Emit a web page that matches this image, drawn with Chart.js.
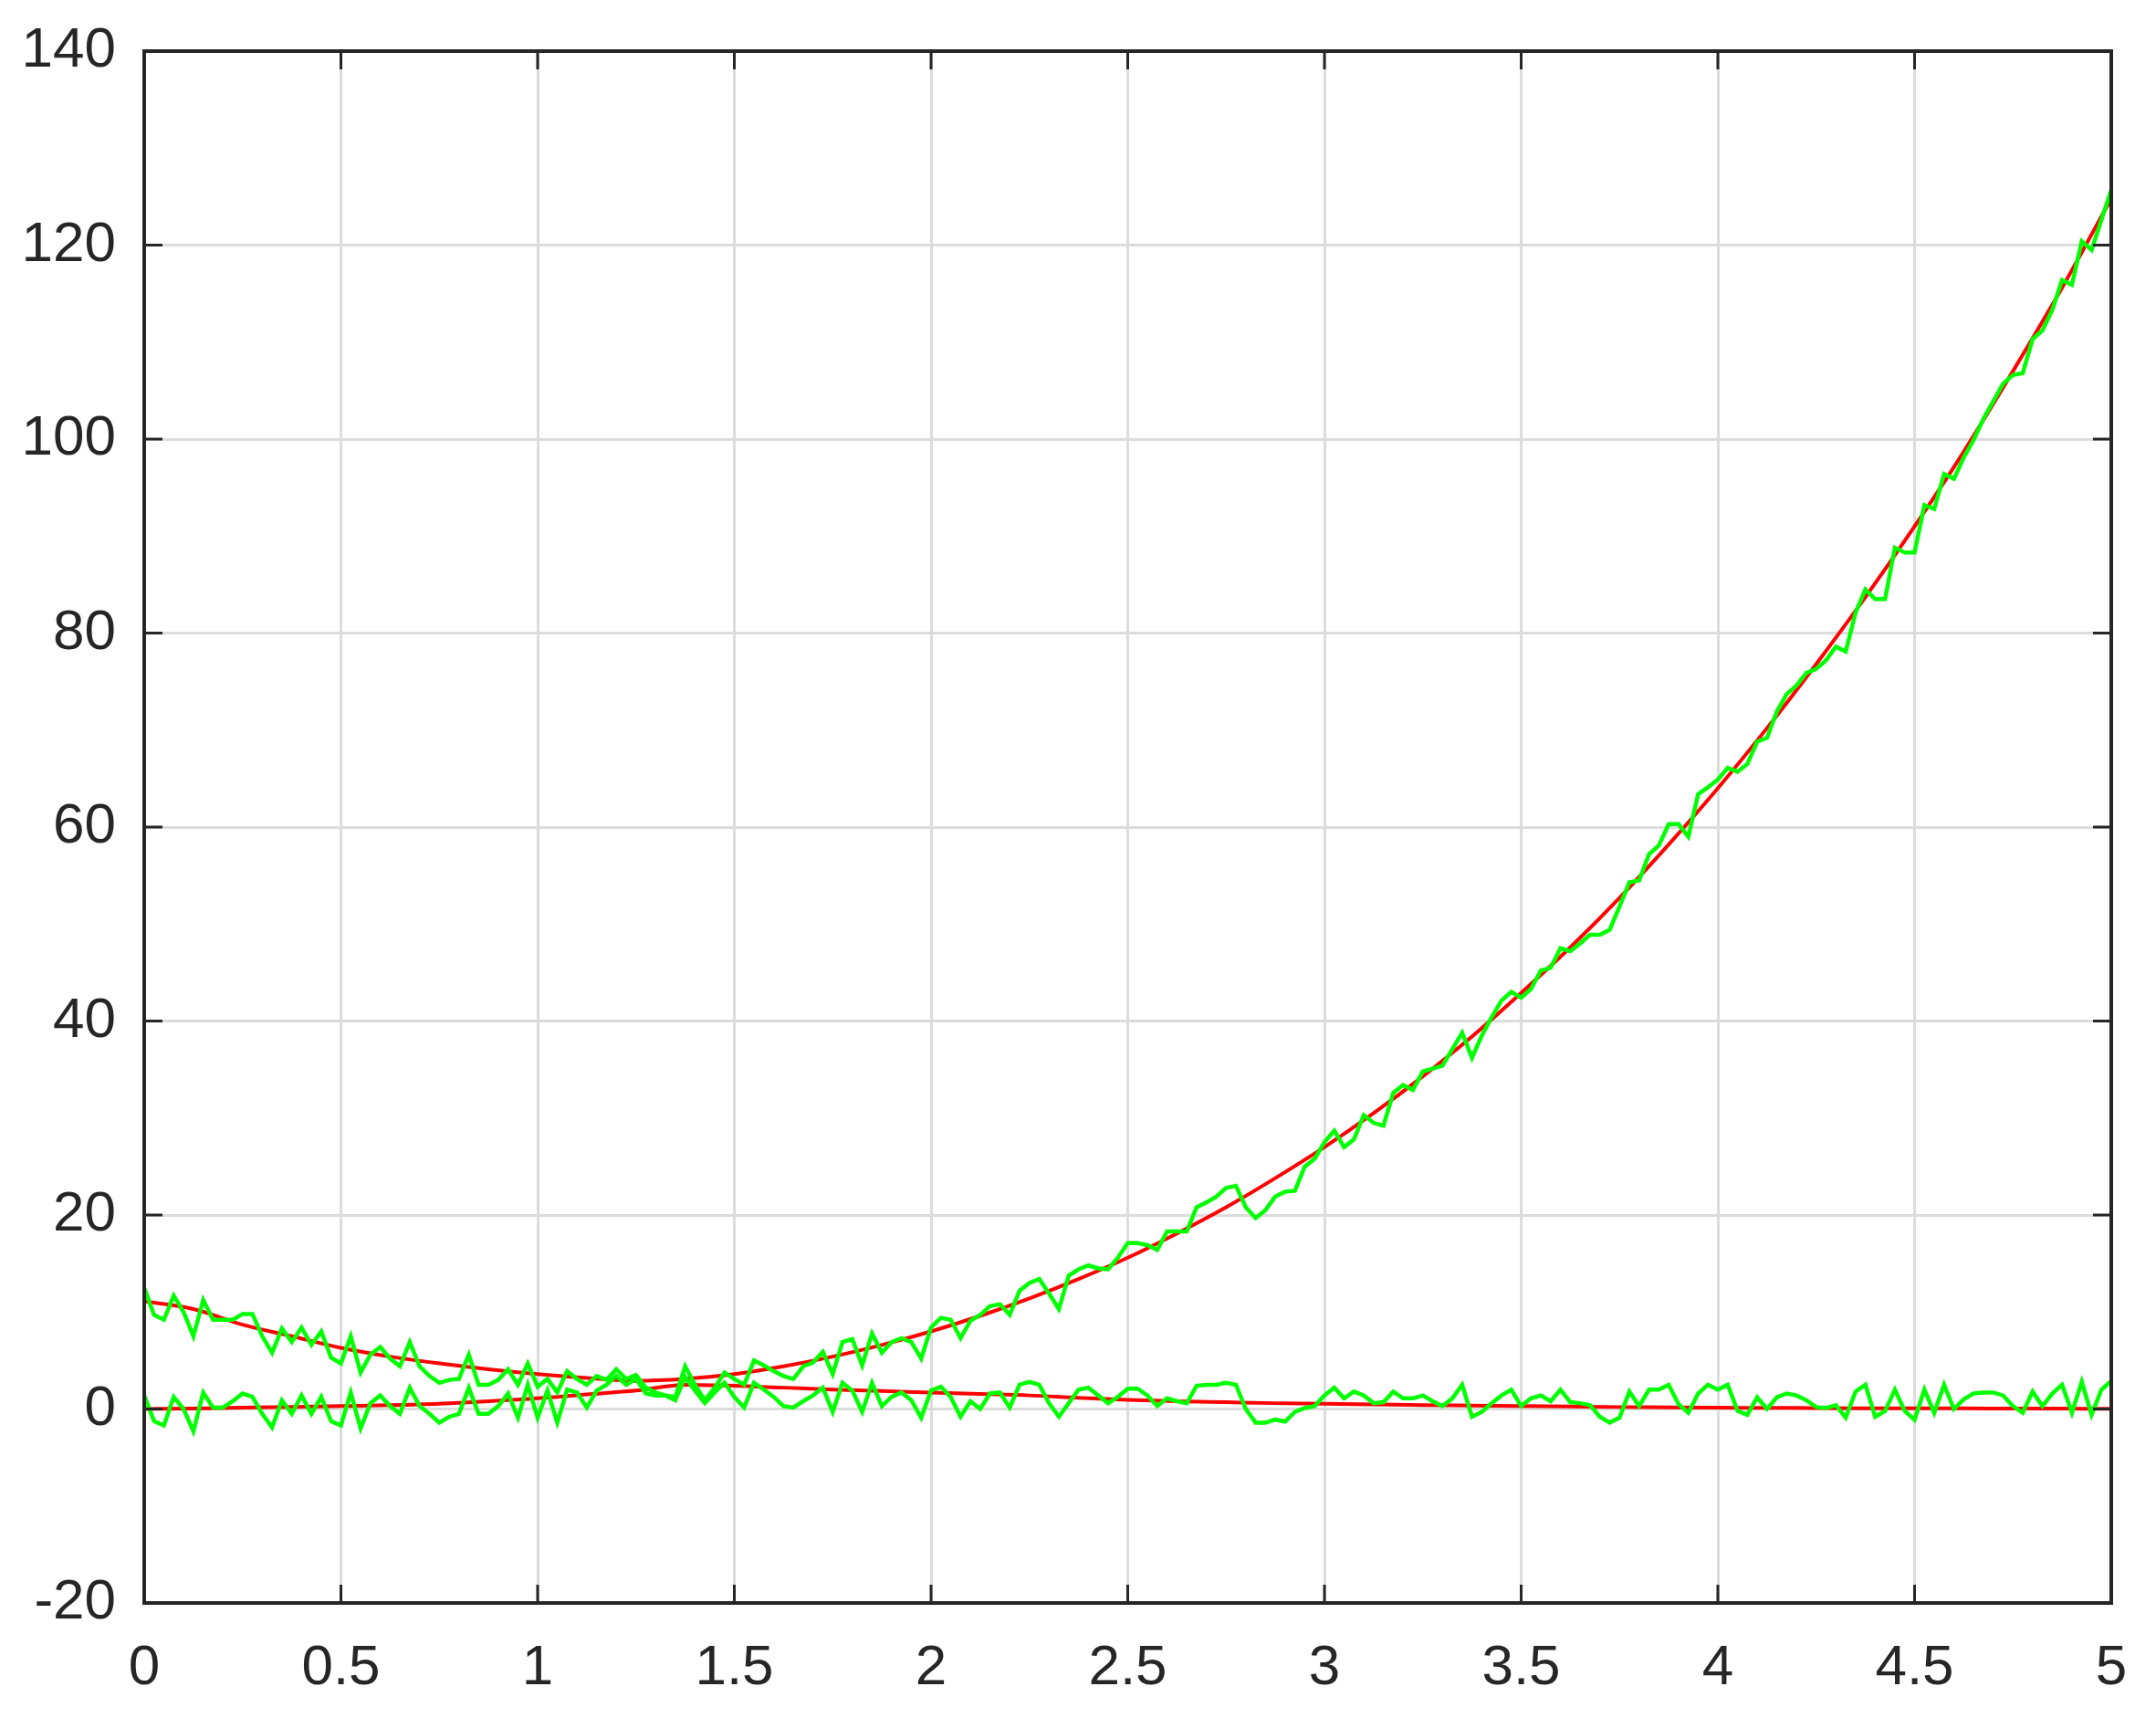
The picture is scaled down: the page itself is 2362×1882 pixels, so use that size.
<!DOCTYPE html>
<html>
<head>
<meta charset="utf-8">
<script src="https://cdn.jsdelivr.net/npm/chart.js@4/dist/chart.umd.min.js"></script>
<style>
  html, body { margin: 0; padding: 0; background: #fff; }
  #wrap { width: 2362px; height: 1882px; }
</style>
</head>
<body>
<div id="wrap"><canvas id="myChart" width="2362" height="1882"></canvas></div>
<script>
// tick labels
const xTicks = [0, 0.5, 1, 1.5, 2, 2.5, 3, 3.5, 4, 4.5, 5];
const yTicks = [-20, 0, 20, 40, 60, 80, 100, 120, 140];

// smooth (red) curves, sampled every 0.125
const xRed = [0, 0.125, 0.25, 0.375, 0.5, 0.625, 0.75, 0.875, 1, 1.125, 1.25, 1.375, 1.5, 1.625, 1.75, 1.875,
  2, 2.125, 2.25, 2.375, 2.5, 2.625, 2.75, 2.875, 3, 3.125, 3.25, 3.375, 3.5, 3.625, 3.75, 3.875,
  4, 4.125, 4.25, 4.375, 4.5, 4.625, 4.75, 4.875, 5];
const redUpper = [11.1, 10.3, 8.7, 7.5, 6.3, 5.4, 4.7, 4.1, 3.6, 3.2, 2.9, 3.1, 3.6, 4.4, 5.4, 6.6,
  8.0, 9.6, 11.4, 13.4, 15.6, 18.1, 20.8, 23.8, 27.0, 30.5, 34.3, 38.4, 42.9, 47.6, 52.7, 58.2,
  64.0, 70.2, 76.8, 83.7, 91.0, 98.7, 107.0, 115.6, 124.8];
const redLower = [0, 0.05, 0.15, 0.22, 0.3, 0.4, 0.55, 0.8, 1.1, 1.5, 1.9, 2.5, 2.4, 2.2, 2.0, 1.85,
  1.7, 1.55, 1.4, 1.15, 0.95, 0.8, 0.7, 0.6, 0.55, 0.48, 0.4, 0.35, 0.3, 0.25, 0.2, 0.17,
  0.14, 0.12, 0.1, 0.08, 0.07, 0.06, 0.05, 0.04, 0.03];

// noisy (green) samples, every 0.025
const xGreen = [
  0, 0.025, 0.05, 0.075, 0.1, 0.125, 0.15, 0.175, 0.2, 0.225, 0.25, 0.275, 0.3, 0.325, 0.35, 0.375, 0.4, 0.425, 0.45, 0.475,
  0.5, 0.525, 0.55, 0.575, 0.6, 0.625, 0.65, 0.675, 0.7, 0.725, 0.75, 0.775, 0.8, 0.825, 0.85, 0.875, 0.9, 0.925, 0.95, 0.975,
  1, 1.025, 1.05, 1.075, 1.1, 1.125, 1.15, 1.175, 1.2, 1.225, 1.25, 1.275, 1.3, 1.325, 1.35, 1.375, 1.4, 1.425, 1.45, 1.475,
  1.5, 1.525, 1.55, 1.575, 1.6, 1.625, 1.65, 1.675, 1.7, 1.725, 1.75, 1.775, 1.8, 1.825, 1.85, 1.875, 1.9, 1.925, 1.95, 1.975,
  2, 2.025, 2.05, 2.075, 2.1, 2.125, 2.15, 2.175, 2.2, 2.225, 2.25, 2.275, 2.3, 2.325, 2.35, 2.375, 2.4, 2.425, 2.45, 2.475,
  2.5, 2.525, 2.55, 2.575, 2.6, 2.625, 2.65, 2.675, 2.7, 2.725, 2.75, 2.775, 2.8, 2.825, 2.85, 2.875, 2.9, 2.925, 2.95, 2.975,
  3, 3.025, 3.05, 3.075, 3.1, 3.125, 3.15, 3.175, 3.2, 3.225, 3.25, 3.275, 3.3, 3.325, 3.35, 3.375, 3.4, 3.425, 3.45, 3.475,
  3.5, 3.525, 3.55, 3.575, 3.6, 3.625, 3.65, 3.675, 3.7, 3.725, 3.75, 3.775, 3.8, 3.825, 3.85, 3.875, 3.9, 3.925, 3.95, 3.975,
  4, 4.025, 4.05, 4.075, 4.1, 4.125, 4.15, 4.175, 4.2, 4.225, 4.25, 4.275, 4.3, 4.325, 4.35, 4.375, 4.4, 4.425, 4.45, 4.475,
  4.5, 4.525, 4.55, 4.575, 4.6, 4.625, 4.65, 4.675, 4.7, 4.725, 4.75, 4.775, 4.8, 4.825, 4.85, 4.875, 4.9, 4.925, 4.95, 4.975,
  5];
const greenUpper = [
  12.5, 9.7, 9.2, 11.7, 10.0, 7.5, 11.25, 9.2, 9.2, 9.2,
  9.8, 9.8, 7.5, 5.8, 8.3, 6.9, 8.4, 6.6, 8.0, 5.3,
  4.7, 7.5, 3.75, 5.6, 6.4, 5.2, 4.4, 6.9, 4.4, 3.4,
  2.7, 3.0, 3.1, 5.6, 2.5, 2.5, 3.0, 4.1, 2.5, 4.7,
  2.3, 3.1, 1.7, 3.9, 3.1, 2.5, 3.4, 3.0, 4.1, 3.1,
  3.5, 2.2, 1.7, 1.4, 1.25, 4.4, 2.5, 0.9, 2.2, 3.75,
  3.1, 2.5, 5.0, 4.5, 3.9, 3.4, 3.1, 4.4, 4.8, 5.9,
  3.6, 6.9, 7.2, 4.5, 7.8, 5.8, 6.9, 7.3, 6.9, 5.2,
  8.4, 9.4, 9.2, 7.3, 9.1, 9.7, 10.6, 10.8, 9.7, 12.2,
  13.0, 13.4, 11.9, 10.3, 13.75, 14.4, 14.8, 14.5, 14.4, 15.6,
  17.1, 17.1, 16.9, 16.4, 18.3, 18.3, 18.3, 20.8, 21.3, 21.9,
  22.8, 23.0, 20.8, 19.7, 20.5, 21.9, 22.4, 22.5, 25.0, 25.8,
  27.5, 28.7, 27.0, 27.8, 30.3, 29.5, 29.2, 32.6, 33.4, 32.9,
  34.8, 35.1, 35.4, 37.1, 38.8, 36.2, 38.5, 40.4, 42.1, 43.0,
  42.4, 43.3, 45.2, 45.5, 47.5, 47.2, 48.0, 48.9, 48.9, 49.4,
  51.8, 54.3, 54.5, 57.2, 58.1, 60.3, 60.3, 59.0, 63.4, 64.1,
  64.9, 66.1, 65.7, 66.5, 68.8, 69.2, 71.9, 73.7, 74.6, 75.9,
  76.3, 77.2, 78.6, 78.1, 82.1, 84.5, 83.5, 83.5, 88.8, 88.3,
  88.3, 93.2, 92.8, 96.4, 95.9, 98.1, 99.9, 102.1, 103.9, 105.7,
  106.6, 106.8, 110.3, 111.2, 113.3, 116.4, 115.9, 120.4, 119.5, 122.6,
  125.7];
const greenLower = [
  1.4, -1.25, -1.7, 1.25, 0, -2.3, 1.7, 0.15, 0.15, 0.8,
  1.6, 1.25, -0.5, -1.9, 0.9, -0.5, 1.4, -0.5, 1.25, -1.25,
  -1.7, 1.7, -2.0, 0.6, 1.4, 0.3, -0.5, 2.2, 0.3, -0.5,
  -1.4, -0.8, -0.5, 2.2, -0.5, -0.5, 0.3, 1.6, -0.9, 2.5,
  -0.9, 1.9, -1.4, 2.0, 1.7, 0.15, 1.9, 2.5, 3.4, 2.5,
  3.1, 1.6, 1.4, 1.4, 0.9, 3.3, 1.9, 0.6, 1.7, 2.7,
  1.25, 0.15, 2.7, 2.0, 1.25, 0.3, 0.15, 0.8, 1.4, 2.2,
  -0.3, 2.7, 1.9, -0.3, 2.7, 0.3, 1.25, 1.7, 0.9, -0.9,
  1.9, 2.3, 1.25, -0.8, 0.8, 0, 1.6, 1.7, 0.15, 2.5,
  2.8, 2.5, 0.6, -0.8, 0.6, 2.0, 2.2, 1.4, 0.6, 1.25,
  2.1, 2.1, 1.4, 0.3, 1.1, 0.8, 0.6, 2.4, 2.5, 2.5,
  2.7, 2.5, 0, -1.4, -1.4, -1.1, -1.3, -0.3, 0.1, 0.3,
  1.4, 2.2, 1.1, 1.8, 1.4, 0.6, 0.7, 1.8, 1.1, 1.1,
  1.4, 0.8, 0.3, 1.1, 2.5, -0.8, -0.3, 0.6, 1.4, 2.0,
  0.3, 1.1, 1.4, 0.8, 2.0, 0.7, 0.6, 0.4, -0.8, -1.4,
  -0.9, 1.8, 0.3, 2.0, 2.0, 2.5, 0.5, -0.4, 1.6, 2.5,
  2.0, 2.5, -0.2, -0.6, 1.2, 0, 1.2, 1.6, 1.4, 0.9,
  0.2, 0.1, 0.4, -0.9, 1.8, 2.5, -0.8, -0.2, 2.0, -0.2,
  -1.1, 2.0, -0.4, 2.5, 0, 1.0, 1.6, 1.7, 1.7, 1.4,
  0.3, -0.4, 1.8, 0.3, 1.6, 2.5, -0.4, 2.8, -0.6, 2.0,
  2.9];

function pts(xs, ys) {
  return xs.map((x, i) => ({x: x, y: ys[i]}));
}

const axisFont = {family: "'Liberation Sans', Arial, sans-serif", size: 62};
const gridCol = '#dcdcdc';
const frameCol = '#262626';

// box round the plot and inward tick marks on all four sides
const frame = {
  id: 'frame',
  afterDatasetsDraw(chart) {
    const ctx = chart.ctx;
    const a = chart.chartArea;
    const sx = chart.scales.x, sy = chart.scales.y;
    const len = 20;
    ctx.save();
    ctx.strokeStyle = frameCol;
    ctx.lineWidth = 3;
    ctx.beginPath();
    xTicks.forEach(v => {
      const px = sx.getPixelForValue(v);
      ctx.moveTo(px, a.bottom); ctx.lineTo(px, a.bottom - len);
      ctx.moveTo(px, a.top); ctx.lineTo(px, a.top + len);
    });
    yTicks.forEach(v => {
      const py = sy.getPixelForValue(v);
      ctx.moveTo(a.left, py); ctx.lineTo(a.left + len, py);
      ctx.moveTo(a.right, py); ctx.lineTo(a.right - len, py);
    });
    ctx.stroke();
    ctx.lineWidth = 4;
    ctx.strokeRect(a.left, a.top, a.right - a.left, a.bottom - a.top);
    ctx.restore();
  }
};

const data = {
  datasets: [
    {data: pts(xGreen, greenUpper), borderColor: '#00ff00', borderWidth: 4.5, tension: 0, order: 1},
    {data: pts(xGreen, greenLower), borderColor: '#00ff00', borderWidth: 4.5, tension: 0, order: 1},
    {data: pts(xRed, redUpper), borderColor: '#ff0000', borderWidth: 4, cubicInterpolationMode: 'monotone', order: 2},
    {data: pts(xRed, redLower), borderColor: '#ff0000', borderWidth: 4, cubicInterpolationMode: 'monotone', order: 2}
  ]
};

const config = {
  type: 'line',
  data,
  options: {
    responsive: false,
    animation: false,
    devicePixelRatio: 1,
    layout: {padding: {top: 56, right: 49, left: 0, bottom: 0}},
    plugins: {legend: {display: false}, tooltip: {enabled: false}},
    elements: {point: {radius: 0}},
    scales: {
      x: {
        type: 'linear', min: 0, max: 5,
        afterBuildTicks: s => { s.ticks = xTicks.map(v => ({value: v})); },
        afterFit: s => { s.height = 126; s.paddingLeft = 0; s.paddingRight = 0; },
        grid: {color: gridCol, lineWidth: 3, drawTicks: false},
        border: {display: false},
        ticks: {padding: 35, font: axisFont, color: frameCol, maxRotation: 0, autoSkip: false,
                callback: v => String(v)}
      },
      y: {
        type: 'linear', min: -20, max: 140,
        afterBuildTicks: s => { s.ticks = yTicks.map(v => ({value: v})); },
        afterFit: s => { s.width = 158; s.paddingTop = 0; s.paddingBottom = 0; },
        grid: {color: gridCol, lineWidth: 3, drawTicks: false},
        border: {display: false},
        ticks: {padding: 31, font: axisFont, color: frameCol, autoSkip: false,
                callback: v => String(v)}
      }
    }
  },
  plugins: [frame]
};

var myChart = new Chart(document.getElementById('myChart'), config);
</script>
</body>
</html>
